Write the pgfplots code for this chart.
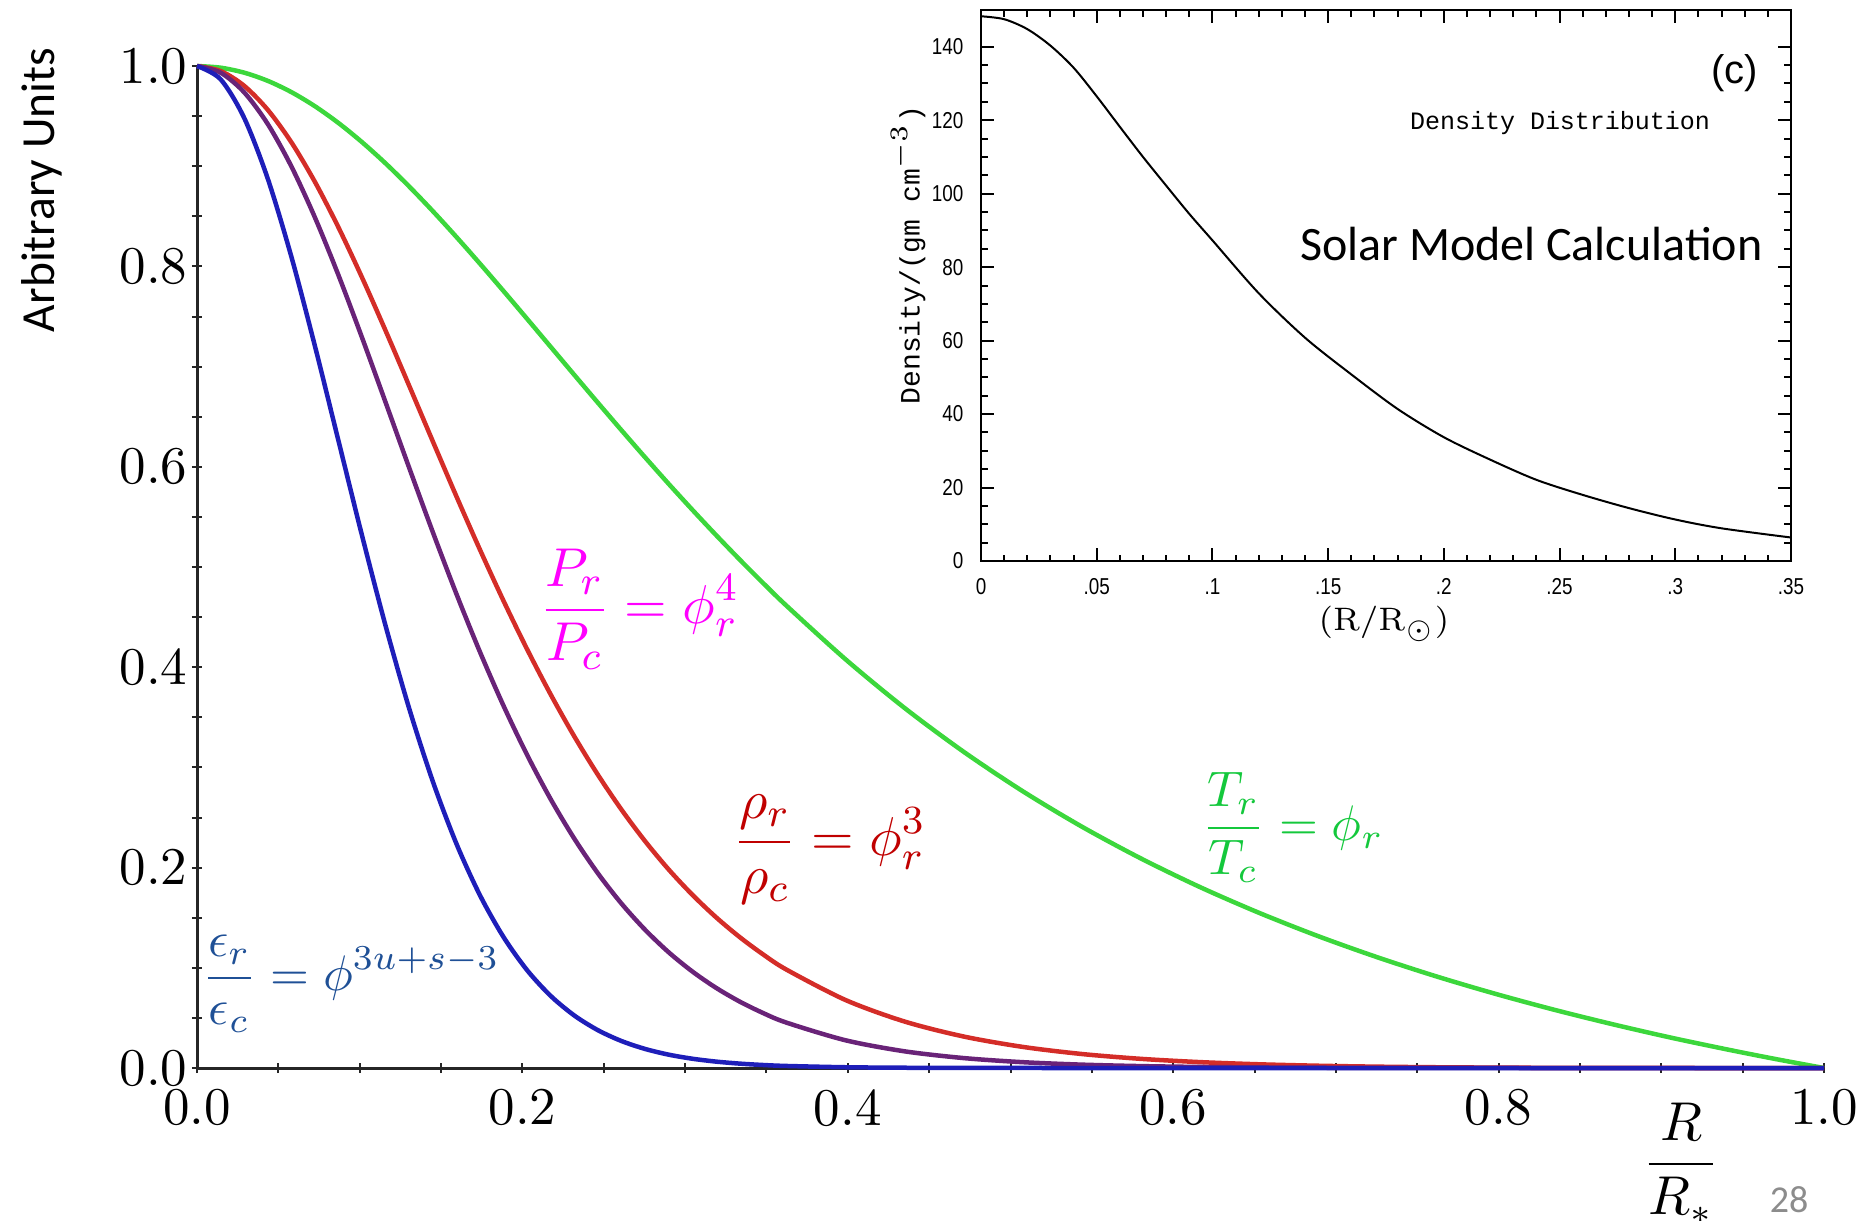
\documentclass[border=0pt]{standalone}
\usepackage{fontspec}
\usepackage{graphicx}
\usepackage{pgfplots}
\usepackage{pgfplotstable}
\pgfplotsset{compat=1.18}
\setsansfont{Liberation Sans}
\setmonofont{Liberation Mono}
\newfontfamily\calibri{Carlito}
\definecolor{cgreen}{RGB}{60,215,60}
\definecolor{cred}{RGB}{212,45,40}
\definecolor{cpurple}{RGB}{105,35,120}
\definecolor{cblue}{RGB}{30,30,185}
\definecolor{lmag}{RGB}{255,0,255}
\definecolor{lred}{RGB}{192,0,0}
\definecolor{lgreen}{RGB}{20,200,60}
\definecolor{lblue}{RGB}{31,80,150}
\newcommand\nl[1]{\scalebox{0.82}[1]{#1}}
\pgfplotstableread{
x        T       rho     P       eps
0        1       1       1       1
0.014500 0.99833 0.99501 0.99335 0.98675
0.029000 0.99337 0.98025 0.97375 0.94819
0.043498 0.98520 0.95625 0.94210 0.88755
0.058000 0.97396 0.92390 0.89984 0.80971
0.072497 0.95984 0.88429 0.84878 0.72042
0.087000 0.94307 0.83875 0.79100 0.62568
0.101496 0.92392 0.78869 0.72869 0.53099
0.116000 0.90267 0.73551 0.66392 0.44079
0.130495 0.87962 0.68059 0.59866 0.35839
0.145000 0.85506 0.62516 0.53455 0.28574
0.159494 0.82929 0.57032 0.47296 0.22369
0.173990 0.80260 0.51701 0.41495 0.17218
0.188493 0.77524 0.46591 0.36119 0.13046
0.202990 0.74747 0.41762 0.31216 0.09744
0.217492 0.71950 0.37248 0.26800 0.07182
0.231990 0.69154 0.33071 0.22870 0.05230
0.246491 0.66377 0.29244 0.19411 0.03768
0.260990 0.63631 0.25764 0.16394 0.02688
0.275490 0.60931 0.22621 0.13783 0.01900
0.289990 0.58282 0.19797 0.11538 0.01331
0.304489 0.55703 0.17284 0.09628 0.00927
0.318990 0.53191 0.15049 0.08005 0.00641
0.333488 0.50752 0.13073 0.06635 0.00440
0.347990 0.48392 0.11332 0.05484 0.00301
0.362490 0.46109 0.09803 0.04520 0.00204
0.398730 0.40772 0.06778 0.02764 0.00076
0.434980 0.35921 0.04635 0.01665 0.00028
0.471230 0.31557 0.03143 0.00992 0.00010
0.507480 0.27629 0.02109 0.00583 0.00003
0.543730 0.24099 0.01400 0.00337 0.00001
0.579980 0.20928 0.00917 0.00192 0
0.616230 0.18075 0.00591 0.00107 0
0.652480 0.15507 0.00373 0.00058 0
0.688720 0.13184 0.00229 0.00030 0
0.724970 0.11082 0.00136 0.00015 0
0.761220 0.09170 0.00077 0.00007 0
0.797470 0.07429 0.00041 0.00003 0
0.833720 0.05834 0.00020 0.00001 0
0.869970 0.04373 0.00008 0       0
0.906220 0.03021 0.00003 0       0
0.942470 0.01787 0.00001 0       0
0.971460 0.00859 0       0       0
1.0      0       0       0       0
}\profiles
\pgfplotstableread{
x    rho
0    148.3
0.01 147.5
0.02 144.8
0.03 140.3
0.04 134.3
0.05 126.5
0.06 118.2
0.07 110.0
0.08 102.2
0.09 94.5
0.10 87.3
0.12 72.9
0.14 60.8
0.16 50.8
0.18 41.4
0.20 33.7
0.22 27.6
0.24 22.1
0.26 18.0
0.28 14.4
0.30 11.3
0.32 8.9
0.35 6.4
}\solar
\begin{document}
\begin{tikzpicture}[x=1pt,y=1pt]
\useasboundingbox (0,0) rectangle (375.2,-244);
\begin{axis}[
  at={(39.4pt,-213.6pt)}, anchor=south west,
  width=325.4pt, height=200.4pt, scale only axis,
  xmin=0, xmax=1, ymin=0, ymax=1,
  axis x line=bottom, axis y line=left,
  axis line style={-, line width=0.6pt, black!85},
  xtick={0,0.2,0.4,0.6,0.8,1.0}, ytick={0,0.2,0.4,0.6,0.8,1.0},
  xticklabels={0.0,0.2,0.4,0.6,0.8,1.0},
  yticklabels={0.0,0.2,0.4,0.6,0.8,1.0},
  minor tick num=3,
  tick align=center,
  major tick length=2pt, minor tick length=2pt,
  tick style={black!85, line width=0.4pt},
  tick label style={font=\fontsize{10.6}{12}\selectfont},
  yticklabel style={xshift=2.6pt},
  xticklabel style={yshift=0.3pt},
  clip=false,
]
\addplot[cgreen, line width=0.9pt, smooth] table[x=x, y=T] {\profiles};
\addplot[cred, line width=0.9pt, smooth] table[x=x, y=rho] {\profiles};
\addplot[cpurple, line width=0.9pt, smooth] table[x=x, y=P] {\profiles};
\addplot[cblue, line width=0.9pt, smooth] table[x=x, y=eps] {\profiles};
\node[anchor=west, text=lmag, font=\fontsize{11}{13}\selectfont, inner sep=0pt] at (axis cs:0.210,0.458) {$\displaystyle\frac{P_r}{P_c}=\phi_r^4$};
\node[anchor=west, text=lred, font=\fontsize{11.3}{13}\selectfont, inner sep=0pt] at (axis cs:0.329,0.218) {$\displaystyle\frac{\rho_r}{\rho_c}=\phi_r^3$};
\node[anchor=west, text=lgreen, font=\fontsize{9.6}{11}\selectfont, inner sep=0pt] at (axis cs:0.617,0.24) {$\displaystyle\frac{T_r}{T_c}=\phi_r$};
\node[anchor=west, text=lblue, font=\fontsize{10.4}{12}\selectfont, inner sep=0pt] at (axis cs:0.0025,0.084) {$\displaystyle\frac{\epsilon_r}{\epsilon_c}=\phi^{3u+s-3}$};
\end{axis}
\node[rotate=90, font=\calibri\fontsize{9.5}{11}\selectfont] at (8.4,-38) {Arbitrary Units};
\node[font=\fontsize{10.6}{12}\selectfont] at (336.2,-232.6) {$\displaystyle\frac{R}{R_*}$};
\node[font=\calibri\fontsize{7.6}{9}\selectfont, text=black!45] at (357.8,-240) {28};
\begin{axis}[
  at={(196.2pt,-112.2pt)}, anchor=south west,
  width=162pt, height=110.2pt, scale only axis,
  axis background/.style={fill=white},
  xmin=0, xmax=0.35, ymin=0, ymax=150,
  xtick={0,0.05,0.1,0.15,0.2,0.25,0.3,0.35},
  xticklabels={\nl{0},\nl{.05},\nl{.1},\nl{.15},\nl{.2},\nl{.25},\nl{.3},\nl{.35}},
  ytick={0,20,40,60,80,100,120,140},
  yticklabels={\nl{0},\nl{20},\nl{40},\nl{60},\nl{80},\nl{100},\nl{120},\nl{140}},
  minor x tick num=4, minor y tick num=3,
  tick align=inside,
  major tick length=2.6pt, minor tick length=1.3pt,
  axis line style={line width=0.5pt},
  tick style={black, line width=0.4pt},
  tick label style={font=\sffamily\fontsize{4.6}{5}\selectfont},
  xticklabel style={yshift=0pt},
]
\addplot[black, line width=0.4pt, smooth] table[x=x, y=rho] {\solar};
\node[font=\sffamily\fontsize{8}{9}\selectfont] at (axis cs:0.3257,132.8) {(c)};
\node[font=\ttfamily\fontsize{5}{6}\selectfont] at (axis cs:0.2502,119.2) {Density Distribution};
\node[font=\calibri\fontsize{9.6}{11}\selectfont] at (axis cs:0.2378,86.4) {Solar Model Calculation};
\end{axis}
\node[rotate=90, font=\ttfamily\fontsize{5.6}{7}\selectfont] at (181.6,-51) {Density/(gm cm$^{-3}$)};
\node[font=\rmfamily\fontsize{6.5}{8}\selectfont] at (276.8,-124.8) {(R/R$_\odot$)};
\end{tikzpicture}
\end{document}
